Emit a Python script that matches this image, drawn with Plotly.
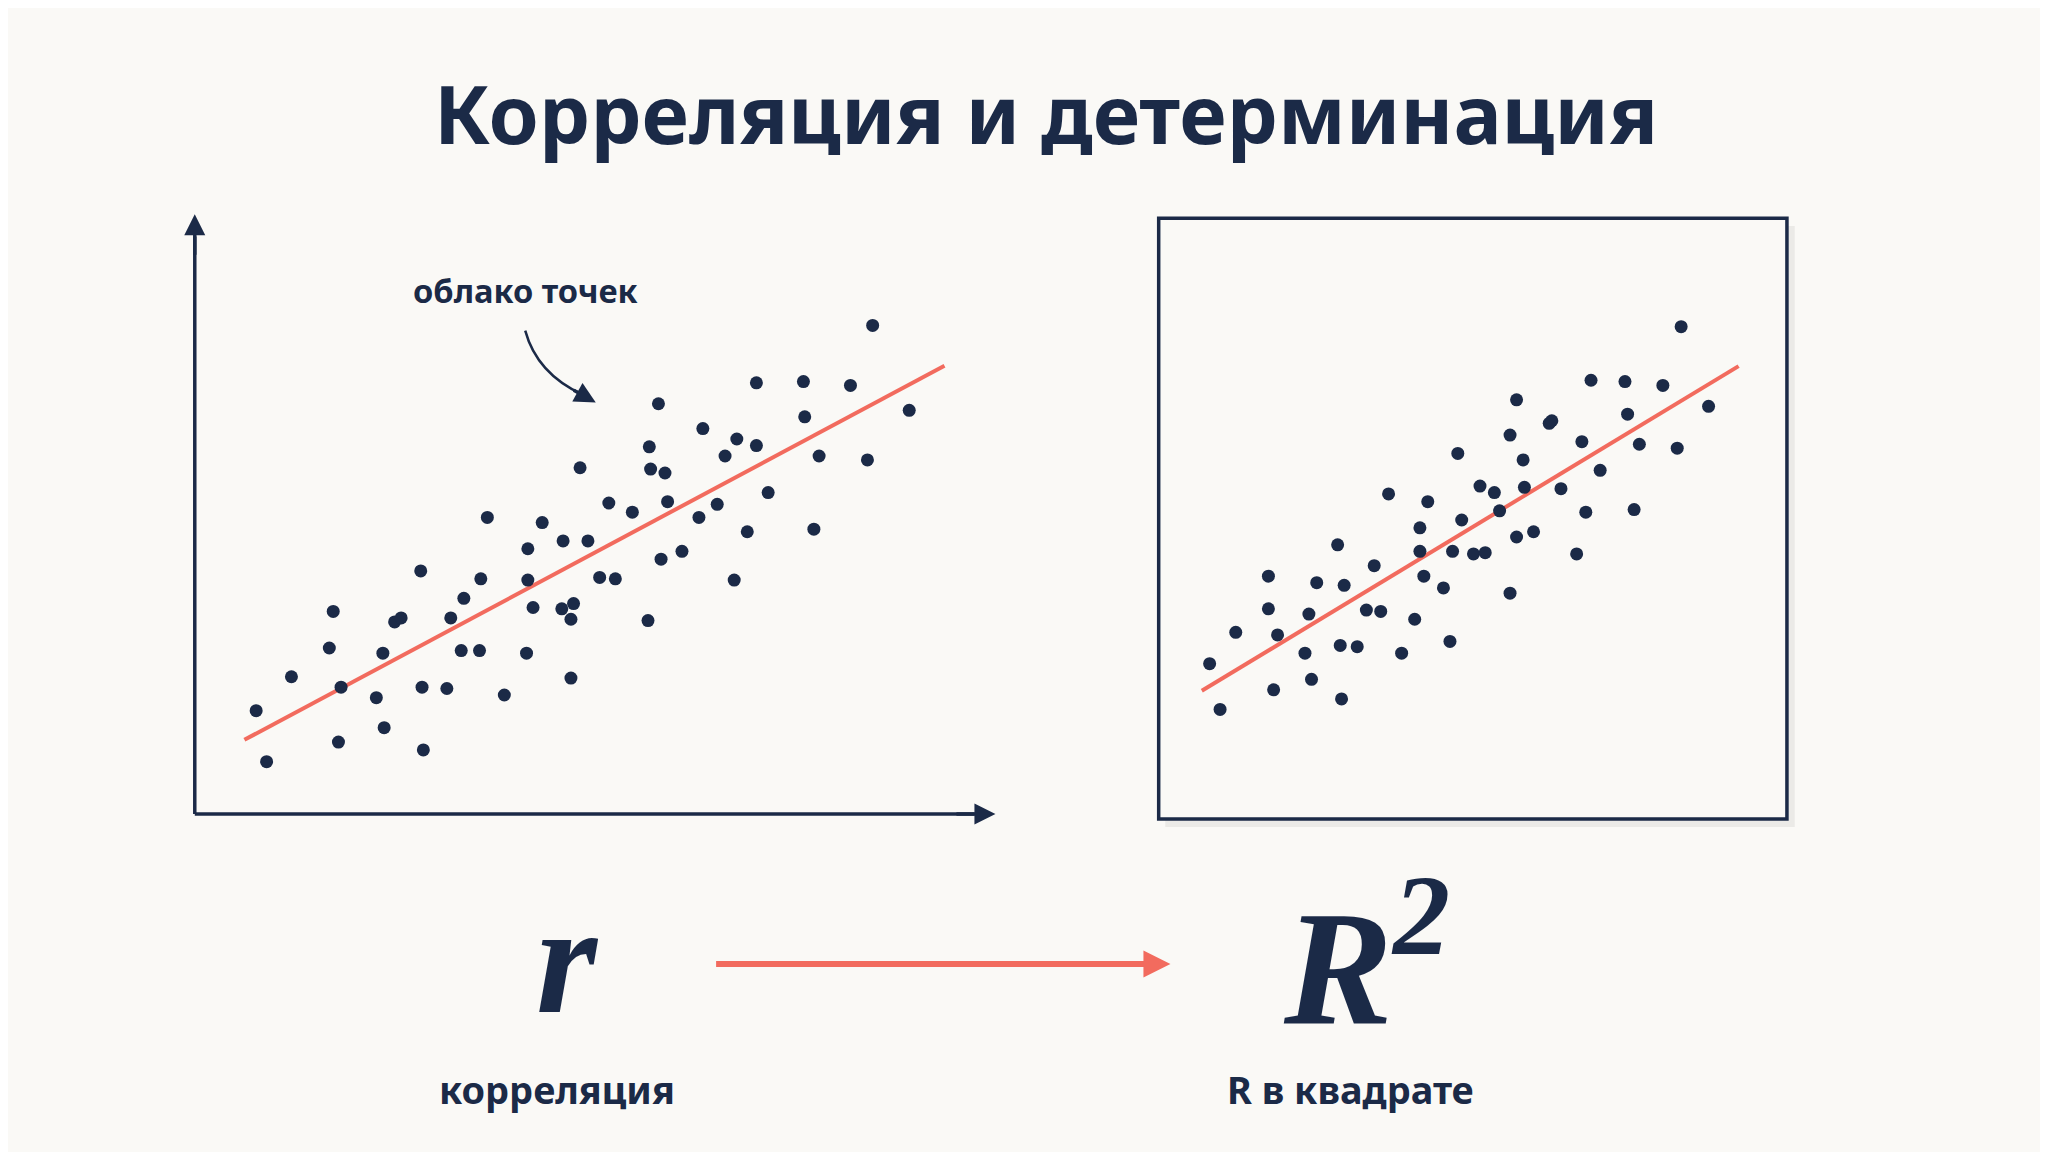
import numpy as np
import plotly.graph_objects as go

W, H = 1568, 882
S = 2048 / W
NAVY = "#1b2a47"
RED = "#f26b5e"
BG = "#faf9f6"

left_x = [190,198,217,249,246,253,255,282,287,288,296,301,316,317,318,336,339,347,349,361,362,367,380,397,398,398,402,409,425,431,431,438,444,453,460,465,478,490,491,492,498,500,503,505,516,529,532,543,549,556,558,566,573,573,582,609,610,617,621,645,658,662,690,433,424]
left_y = [538,577,512,462,490,562,520,528,494,551,470,467,431,520,568,521,467,492,452,492,437,390,526,494,414,438,459,394,408,468,513,352,408,436,379,437,386,469,336,353,303,422,356,378,416,390,322,380,343,438,330,401,287,335,371,286,313,399,343,289,346,243,308,456,460]
right_x = [920,928,940,965,965,969,972,993,996,998,1002,1018,1020,1021,1023,1033,1040,1046,1051,1057,1067,1077,1081,1081,1084,1087,1099,1104,1106,1110,1113,1122,1127,1131,1138,1142,1150,1150,1155,1155,1160,1161,1168,1180,1182,1189,1201,1205,1208,1212,1219,1238,1240,1245,1249,1267,1278,1281,1302]
right_y = [502,537,478,435,460,522,480,494,464,514,440,411,488,529,442,489,461,427,462,372,494,468,398,416,435,378,444,485,416,341,392,418,366,417,371,385,448,327,300,405,346,367,401,318,316,368,418,332,386,285,354,286,311,384,334,289,337,244,305]
left_fit_x = [181, 717]
right_fit_x = [914, 1325]

fig = go.Figure()
for xs, ys, fx in [(left_x, left_y, left_fit_x), (right_x, right_y, right_fit_x)]:
    k, b = np.polyfit(xs, ys, 1)
    fig.add_trace(go.Scatter(x=fx, y=[k*v+b for v in fx], mode="lines",
                             line=dict(color=RED, width=4), hoverinfo="skip"))
    fig.add_trace(go.Scatter(x=xs, y=ys, mode="markers",
                             marker=dict(color=NAVY, size=13), hoverinfo="skip"))

shapes = [
    dict(type="rect", x0=886, y0=167, x1=1368, y1=627, fillcolor="rgba(0,0,0,0.06)", line_width=0, layer="below"),
    dict(type="rect", x0=881, y0=161, x1=1362, y1=621, fillcolor=BG, line=dict(color=NAVY, width=3.5), layer="below"),
    dict(type="line", x0=143, y0=617, x1=143, y1=175, line=dict(color=NAVY, width=3.5)),
    dict(type="line", x0=143, y0=617, x1=740, y1=617, line=dict(color=NAVY, width=3.5)),
    dict(type="path", path="M 396,247 Q 405,280 440,296", line=dict(color=NAVY, width=2.5)),
]
ann = [
    dict(x=143, y=158, ax=143, ay=190),
    dict(x=756, y=617, ax=725, ay=617),
    dict(x=450, y=302, ax=432, ay=292),
]
annotations = []
for a in ann:
    annotations.append(dict(x=a["x"], y=a["y"], ax=a["ax"], ay=a["ay"], xref="x", yref="y",
                            axref="x", ayref="y", text="", showarrow=True, arrowhead=2,
                            arrowsize=1.2, arrowwidth=3.5, arrowcolor=NAVY))
annotations.append(dict(x=890, y=732, ax=541, ay=732, xref="x", yref="y", axref="x", ayref="y",
                        text="", showarrow=True, arrowhead=2, arrowsize=0.9, arrowwidth=6,
                        arrowcolor=RED))
def txt(x, y, t, size, family="Noto Sans", bold=True, italic=False):
    s = f"<b>{t}</b>" if bold else t
    if italic:
        s = f"<i>{s}</i>"
    annotations.append(dict(x=x, y=y, xref="x", yref="y", text=s, showarrow=False,
                            font=dict(family=family, size=size*S, color=NAVY)))

txt(795, 80, "Корреляция и детерминация", 62)
txt(396, 216, "облако точек", 25)
txt(420, 828, "корреляция", 29)
txt(1028, 828, "R в квадрате", 29)
txt(428, 728, "r", 120, family="Liberation Serif", italic=True)
txt(1040, 725, "R<sup>2</sup>", 125, family="Liberation Serif", italic=True)

fig.update_layout(
    width=2048, height=1152, margin=dict(l=0, r=0, t=0, b=0),
    paper_bgcolor=BG, plot_bgcolor=BG, showlegend=False,
    xaxis=dict(range=[0, W], visible=False, domain=[0, 1]),
    yaxis=dict(range=[H, 0], visible=False, domain=[0, 1]),
    shapes=shapes, annotations=annotations,
)
fig.write_html("out.html")
